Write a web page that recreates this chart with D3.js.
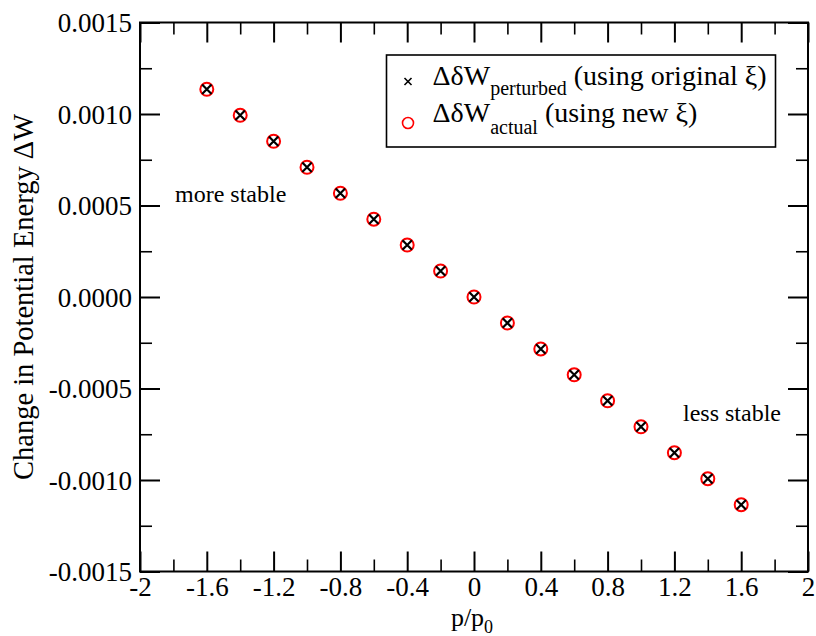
<!DOCTYPE html>
<html>
<head>
<meta charset="utf-8">
<script src="https://cdn.jsdelivr.net/npm/d3@7"></script>
<style>
  body { margin: 0; background: #fff; }
  svg text, svg tspan { font-family: 'Liberation Serif', 'Times New Roman', Times, serif !important; fill: #000; }
</style>
</head>
<body>
<div id="chart"></div>
<script>
// Data
var pRatio = [-1.6, -1.4, -1.2, -1.0, -0.8, -0.6, -0.4, -0.2, 0, 0.2, 0.4, 0.6, 0.8, 1.0, 1.2, 1.4, 1.6];
var dWperturbed = [0.001135, 0.000993, 0.000851, 0.000709, 0.000567, 0.000425, 0.000284, 0.000142, 0,
                   -0.000142, -0.000284, -0.000425, -0.000567, -0.000709, -0.000851, -0.000993, -0.001135];
var dWactual = [0.001135, 0.000993, 0.000851, 0.000709, 0.000567, 0.000425, 0.000284, 0.000142, 0,
                -0.000142, -0.000284, -0.000425, -0.000567, -0.000709, -0.000851, -0.000993, -0.001135];

var xMajor = [-2, -1.6, -1.2, -0.8, -0.4, 0, 0.4, 0.8, 1.2, 1.6, 2];
var xMinor = [-1.8, -1.4, -1.0, -0.6, -0.2, 0.2, 0.6, 1.0, 1.4, 1.8];
var yMajor = [-0.0015, -0.0010, -0.0005, 0, 0.0005, 0.0010, 0.0015];
var yMinor = [-0.00125, -0.00075, -0.00025, 0.00025, 0.00075, 0.00125];

var margin = { top: 22.5, right: 8, bottom: 64.5, left: 140 },
    width = 816 - margin.left - margin.right,
    height = 636 - margin.top - margin.bottom;

var x = d3.scaleLinear().domain([-2, 2]).range([0, width]),
    y = d3.scaleLinear().domain([-0.0015, 0.0015]).range([height, 0]);

var svg = d3.select("#chart")
  .append("svg")
    .attr("width", 816)
    .attr("height", 636)
  .append("g")
    .attr("transform", "translate(" + margin.left + "," + margin.top + ")");

var fmtX = function(d) { return String(+d.toFixed(1)); };
var fmtY = function(d) { var v = Math.abs(d) < 1e-12 ? 0 : d; return v.toFixed(4); };

// inside ticks on all four sides
function tickAxis(axis, vals, len, fmt) {
  return axis.tickValues(vals).tickSizeInner(-len).tickSizeOuter(0).tickPadding(len + 6).tickFormat(fmt || "");
}

function styleAxis(g, w) {
  g.attr("font-family", null).attr("font-size", null);
  g.select(".domain").remove();
  g.selectAll(".tick line").attr("stroke", "#000").attr("stroke-width", w);
  g.selectAll(".tick text").attr("fill", "#000").style("font-size", "27px");
}

// bottom
svg.append("g").attr("transform", "translate(0," + height + ")")
  .call(tickAxis(d3.axisBottom(x), xMinor, 12)).call(styleAxis, 1.6);
svg.append("g").attr("transform", "translate(0," + height + ")")
  .call(tickAxis(d3.axisBottom(x), xMajor, 20, fmtX)).call(styleAxis, 2)
  .selectAll(".tick text").attr("dy", "0.71em").attr("y", 5);
// top
svg.append("g").call(tickAxis(d3.axisTop(x), xMinor, 12)).call(styleAxis, 1.6);
svg.append("g").call(tickAxis(d3.axisTop(x), xMajor, 20)).call(styleAxis, 2);
// left
svg.append("g").call(tickAxis(d3.axisLeft(y), yMinor, 12)).call(styleAxis, 1.6);
svg.append("g").call(tickAxis(d3.axisLeft(y), yMajor, 20, fmtY)).call(styleAxis, 2)
  .selectAll(".tick text").attr("x", -8).attr("dy", "0.35em");
// right
svg.append("g").attr("transform", "translate(" + width + ",0)")
  .call(tickAxis(d3.axisRight(y), yMinor, 12)).call(styleAxis, 1.6);
svg.append("g").attr("transform", "translate(" + width + ",0)")
  .call(tickAxis(d3.axisRight(y), yMajor, 20)).call(styleAxis, 2);

// frame
svg.append("rect")
  .attr("x", 0).attr("y", 0)
  .attr("width", width).attr("height", height)
  .attr("fill", "none").attr("stroke", "#000").attr("stroke-width", 2);

// circles (actual)
svg.selectAll(".circ")
  .data(pRatio)
  .enter()
  .append("circle")
  .attr("class", "circ")
  .attr("cx", function(d) { return x(d); })
  .attr("cy", function(d, i) { return y(dWactual[i]); })
  .attr("r", 6.5)
  .attr("fill", "none")
  .attr("stroke", "#ff0000")
  .attr("stroke-width", 2);

// crosses (perturbed)
var cross = d3.symbol().type(d3.symbolX).size(60);
svg.selectAll(".cross")
  .data(pRatio)
  .enter()
  .append("path")
  .attr("class", "cross")
  .attr("d", cross)
  .attr("transform", function(d, i) { return "translate(" + x(d) + "," + y(dWperturbed[i]) + ")"; })
  .attr("fill", "none")
  .attr("stroke", "#000")
  .attr("stroke-width", 2.2);

// annotations
svg.append("text")
  .attr("x", 35).attr("y", 179)
  .style("font-size", "24px")
  .text("more stable");
svg.append("text")
  .attr("x", 543).attr("y", 398)
  .style("font-size", "24px")
  .text("less stable");

// axis titles
var xt = svg.append("text")
  .attr("x", width / 2 - 2).attr("y", height + 54)
  .attr("text-anchor", "middle")
  .style("font-size", "26px");
xt.append("tspan").text("p/p");
xt.append("tspan").style("font-size", "18px").attr("dy", 7).text("0");

svg.append("text")
  .attr("transform", "translate(" + (-107) + "," + (height / 2) + ") rotate(-90)")
  .attr("text-anchor", "middle")
  .style("font-size", "28.5px")
  .text("Change in Potential Energy \u0394W");

// legend
var legend = svg.append("g").attr("transform", "translate(" + (386.5 - margin.left) + "," + (55 - margin.top) + ")");
legend.append("rect")
  .attr("width", 389).attr("height", 92)
  .attr("fill", "#fff").attr("stroke", "#000").attr("stroke-width", 1.6);

legend.append("path")
  .attr("d", d3.symbol().type(d3.symbolX).size(34))
  .attr("transform", "translate(21.5,26.5)")
  .attr("fill", "none").attr("stroke", "#000").attr("stroke-width", 1.6);
legend.append("circle")
  .attr("cx", 21.5).attr("cy", 68)
  .attr("r", 5.5)
  .attr("fill", "none").attr("stroke", "#ff0000").attr("stroke-width", 1.6);

var l1 = legend.append("text").attr("x", 46).attr("y", 30).style("font-size", "28px");
l1.append("tspan").text("\u0394\u03b4W");
l1.append("tspan").style("font-size", "20px").attr("dy", 10).text("perturbed");
l1.append("tspan").attr("dy", -10).text(" (using original \u03be)");

var l2 = legend.append("text").attr("x", 46).attr("y", 66.5).style("font-size", "28px");
l2.append("tspan").text("\u0394\u03b4W");
l2.append("tspan").style("font-size", "20px").attr("dy", 12).text("actual");
l2.append("tspan").attr("dy", -12).text(" (using new \u03be)");
</script>
</body>
</html>
